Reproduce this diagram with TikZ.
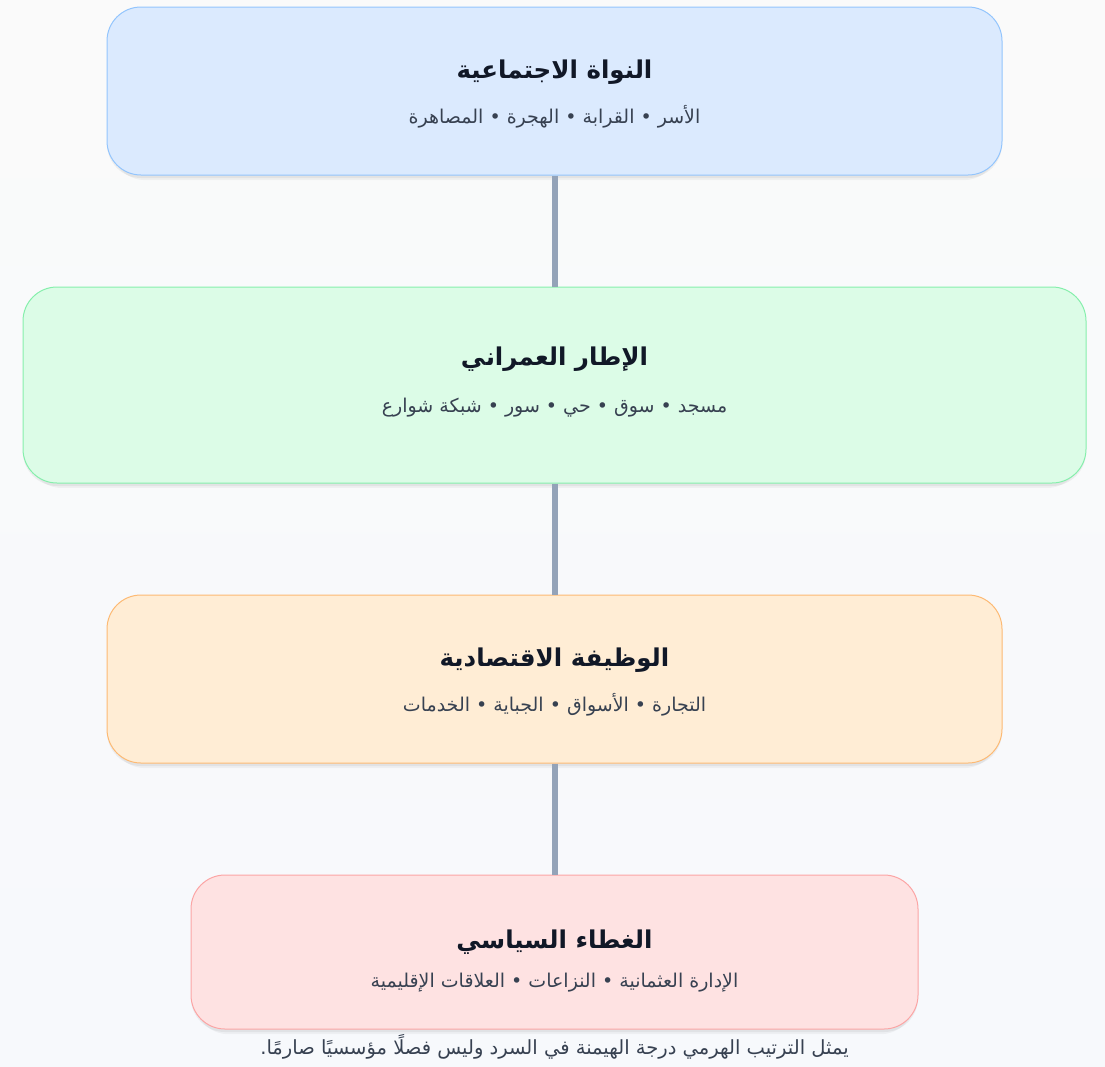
\documentclass[tikz,border=0pt]{standalone}
\usepackage{fontspec}
\newfontfamily\arabicfont[Script=Arabic]{DejaVu Sans}
\TeXXeTstate=1
\usepackage{xcolor}
\definecolor{bgtop}{HTML}{FAFAFA}
\definecolor{bgbot}{HTML}{F7F9FC}
\definecolor{ink}{HTML}{111827}
\definecolor{subc}{HTML}{374151}
\definecolor{linkc}{HTML}{94A3B8}
\definecolor{socF}{HTML}{DBEAFE}
\definecolor{socD}{HTML}{93C5FD}
\definecolor{urbF}{HTML}{DCFCE7}
\definecolor{urbD}{HTML}{86EFAC}
\definecolor{ecoF}{HTML}{FFEDD5}
\definecolor{ecoD}{HTML}{FDBA74}
\definecolor{polF}{HTML}{FEE2E2}
\definecolor{polD}{HTML}{FCA5A5}
\usepackage{tikz}
\usetikzlibrary{positioning,shadows}
\newcommand{\ttl}{\fontsize{24.5}{29}\selectfont\bfseries\arabicfont}
\newcommand{\sub}{\color{subc}\fontsize{19}{22}\selectfont\arabicfont}
\tikzset{
  layer/.style={rounded corners=34pt,line width=1pt,inner sep=0pt,
    drop shadow={shadow xshift=0pt,shadow yshift=-3pt,opacity=0.05,fill=black},
    drop shadow={shadow xshift=0pt,shadow yshift=-6pt,shadow scale=0.99,opacity=0.04,fill=black}},
  txt/.style={align=center,text=ink,inner sep=0pt},
  link/.style={draw=linkc,line width=6pt},
  note/.style={font=\color{subc}\fontsize{19.5}{23}\selectfont\arabicfont,align=center},
}

\begin{document}
\begin{tikzpicture}[x=1pt,y=1pt,node distance=111pt]
\shade[top color=bgtop,bottom color=bgbot] (0,0) rectangle (1105,-1066);
\useasboundingbox (0,0) rectangle (1105,-1066);
% layers from core to cover
\node[layer,draw=socD,fill=socF,minimum width=895pt,minimum height=168pt,
  label={[txt,name=socT,yshift=-3pt]center:{{\ttl\beginR النواة الاجتماعية\endR}\\[19pt]{\sub\beginR الأسر • القرابة • الهجرة • المصاهرة\endR}}}] (soc) at (554.5,-91) {};
\node[layer,draw=urbD,fill=urbF,minimum width=1063pt,minimum height=196pt,below=of soc,
  label={[txt,name=urbT,yshift=3pt]center:{{\ttl\beginR الإطار العمراني\endR}\\[26pt]{\sub\beginR مسجد • سوق • حي • سور • شبكة شوارع\endR}}}] (urb) {};
\node[layer,draw=ecoD,fill=ecoF,minimum width=895pt,minimum height=168pt,below=of urb,
  label={[txt,name=ecoT,yshift=-3pt]center:{{\ttl\beginR الوظيفة الاقتصادية\endR}\\[19pt]{\sub\beginR التجارة • الأسواق • الجباية • الخدمات\endR}}}] (eco) {};
\node[layer,draw=polD,fill=polF,minimum width=727pt,minimum height=154pt,below=of eco,
  label={[txt,name=polT,yshift=-9pt]center:{{\ttl\beginR الغطاء السياسي\endR}\\[17pt]{\sub\beginR الإدارة العثمانية • النزاعات • العلاقات الإقليمية\endR}}}] (pol) {};
\node[note,below=1pt of pol] (cap) {\beginR يمثل الترتيب الهرمي درجة الهيمنة في السرد وليس فصلًا مؤسسيًا صارمًا.\endR};
\draw[link] (soc) -- (urb);
\draw[link] (urb) -- (eco);
\draw[link] (eco) -- (pol);
\end{tikzpicture}
\end{document}
